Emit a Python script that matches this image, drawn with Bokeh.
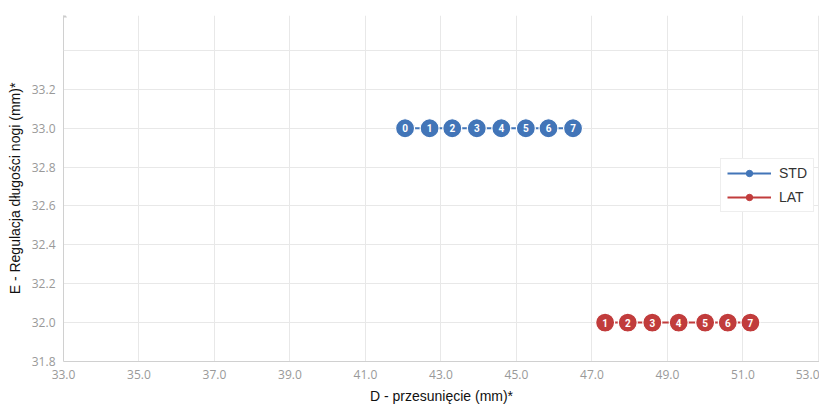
from bokeh.plotting import figure
from bokeh.models import Range1d, FixedTicker, NumeralTickFormatter, Span, ColumnDataSource, Legend, LegendItem
from bokeh.core.properties import value
from bokeh.embed import file_html
from bokeh.resources import INLINE

# data
std_x = [42.05, 42.7, 43.3, 43.95, 44.6, 45.25, 45.85, 46.5]
std_y = [33.0] * 8
std_lbl = ["0", "1", "2", "3", "4", "5", "6", "7"]
lat_x = [47.35, 47.95, 48.6, 49.3, 50.0, 50.6, 51.2]
lat_y = [32.0] * 7
lat_lbl = ["1", "2", "3", "4", "5", "6", "7"]
x_ticks = [33.0, 35.0, 37.0, 39.0, 41.0, 43.0, 45.0, 47.0, 49.0, 51.0, 53.0]
y_ticks = [31.8, 32.0, 32.2, 32.4, 32.6, 32.8, 33.0, 33.2]
y_extra_grid = 33.4
x_title = "D - przesunięcie (mm)*"
y_title = "E - Regulacja długości nogi (mm)*"

BLUE = "#4275b8"
RED = "#c13c3c"
GRID = "#e8e8e8"

p = figure(width=819, height=406, output_backend="svg", toolbar_location=None,
           x_range=Range1d(33.0, 53.03), y_range=Range1d(31.8, 33.58),
           min_border_left=63, min_border_right=0, min_border_top=15, min_border_bottom=0)
p.outline_line_color = None
p.background_fill_color = "white"
p.border_fill_color = "white"

for ax in (p.xaxis[0], p.yaxis[0]):
    ax.major_tick_line_color = None
    ax.minor_tick_line_color = None
    ax.major_tick_out = 0
    ax.major_tick_in = 0
    ax.axis_line_color = "#d0d0d0"
    ax.major_label_text_color = "#999999"
    ax.major_label_text_font = "Open Sans"
    ax.major_label_text_font_size = "12px"
    ax.axis_label_text_font = "Liberation Sans"
    ax.axis_label_text_font_size = "14px"
    ax.axis_label_text_font_style = "normal"
    ax.axis_label_text_color = "#111111"
    ax.formatter = NumeralTickFormatter(format="0.0")

p.xaxis[0].ticker = FixedTicker(ticks=x_ticks)
p.yaxis[0].ticker = FixedTicker(ticks=y_ticks)
p.xaxis[0].axis_label = x_title
p.yaxis[0].axis_label = y_title
p.xaxis[0].major_label_standoff = 8
p.xaxis[0].axis_label_standoff = 6
p.yaxis[0].major_label_standoff = 8
p.yaxis[0].axis_label_standoff = 6

p.xgrid.grid_line_color = GRID
p.ygrid.grid_line_color = GRID
p.add_layout(Span(location=y_extra_grid, dimension="width", line_color=GRID, line_width=1))

# arrow at top of y axis
p.scatter(x=[p.x_range.start], y=[p.y_range.end], marker="triangle", size=7,
          fill_color="#cccccc", line_color=None)

src_std = ColumnDataSource(dict(x=std_x, y=std_y, t=std_lbl))
src_lat = ColumnDataSource(dict(x=lat_x, y=lat_y, t=lat_lbl))

items = []
for src, col, name in ((src_std, BLUE, "STD"), (src_lat, RED, "LAT")):
    l = p.line("x", "y", source=src, line_color=col, line_width=2)
    p.scatter("x", "y", source=src, size=19, fill_color=col, line_color="white",
              line_width=1.2)
    p.text("x", "y", text="t", source=src, text_color="white", text_font=value("Roboto"),
           text_font_size="10px", text_font_style="bold", text_align="center",
           text_baseline="middle")
    nan_src = ColumnDataSource(dict(x=[float("nan")], y=[float("nan")]))
    lg = p.scatter("x", "y", source=nan_src, size=11, fill_color=col, line_color=col)
    items.append(LegendItem(label=name, renderers=[l, lg]))

legend = Legend(items=items, location=(657, 149), border_line_color="#dddddd",
                background_fill_color="white", background_fill_alpha=1,
                label_text_font="Liberation Sans", label_text_font_size="14px",
                label_text_color="#333333", glyph_width=44, glyph_height=16,
                label_height=16, padding=6, spacing=8, margin=0,
                label_standoff=8)
p.add_layout(legend, "center")

open("out.html", "w").write(file_html(p, INLINE))
